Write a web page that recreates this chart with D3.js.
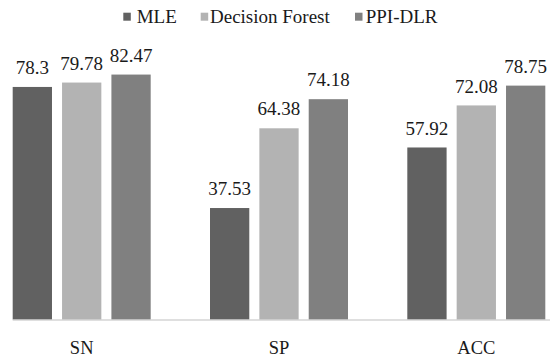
<!DOCTYPE html>
<html>
<head>
<meta charset="utf-8">
<script src="https://cdn.jsdelivr.net/npm/d3@7"></script>
<style>
    body { margin: 0; background: #fff; }
    text { font-family: "Liberation Serif", "Times New Roman", serif; fill: #1a1a1a; }
</style>
</head>
<body>
<div id="chart"></div>
<script>
var categories = ["SN", "SP", "ACC"];
var seriesNames = ["MLE", "Decision Forest", "PPI-DLR"];
var mleValues = [78.3, 37.53, 57.92];
var forestValues = [79.78, 64.38, 72.08];
var ppiValues = [82.47, 74.18, 78.75];
var valueLabels = [["78.3", "37.53", "57.92"], ["79.78", "64.38", "72.08"], ["82.47", "74.18", "78.75"]];

var colors = ["#616161", "#b3b3b3", "#808080"];

var width = 550,
    height = 360;

var svg = d3.select("#chart")
    .append("svg")
    .attr("width", width)
    .attr("height", height);

var rows = [];
categories.forEach(function (c, i) {
    rows.push({ cat: c, values: [mleValues[i], forestValues[i], ppiValues[i]], labels: [valueLabels[0][i], valueLabels[1][i], valueLabels[2][i]] });
});

var x0 = d3.scaleBand()
    .domain(categories)
    .range([-16.9, 574.9])
    .paddingInner(0.3006)
    .paddingOuter(0.15);

var x1 = d3.scaleBand()
    .domain(d3.range(seriesNames.length))
    .range([0, x0.bandwidth()])
    .paddingInner(0.204)
    .paddingOuter(0);

var y = d3.scaleLinear()
    .domain([0, 100])
    .range([319.5, 22.5]);

var groups = svg.append("g")
    .selectAll("g")
    .data(rows)
    .join("g")
    .attr("transform", function (d) { return "translate(" + x0(d.cat) + ",0)"; });

groups.selectAll("rect")
    .data(function (d) { return d.values; })
    .join("rect")
    .attr("x", function (d, i) { return x1(i); })
    .attr("y", function (d) { return y(d); })
    .attr("width", x1.bandwidth())
    .attr("height", function (d) { return y(0) - y(d); })
    .attr("fill", function (d, i) { return colors[i]; });

groups.selectAll("text.value")
    .data(function (d) {
        return d.values.map(function (v, i) { return { v: v, i: i, label: d.labels[i] }; });
    })
    .join("text")
    .attr("class", "value")
    .attr("x", function (d) { return x1(d.i) + x1.bandwidth() / 2; })
    .attr("y", function (d) { return y(d.v) - 12.8; })
    .attr("text-anchor", "middle")
    .style("font-size", "19px")
    .text(function (d) { return d.label; });

// baseline
svg.append("line")
    .attr("x1", x0(categories[0]))
    .attr("x2", width)
    .attr("y1", y(0) + 0.5)
    .attr("y2", y(0) + 0.5)
    .style("stroke", "#bfbfbf")
    .style("stroke-width", 1);

svg.append("g")
    .selectAll("text")
    .data(categories)
    .join("text")
    .attr("x", function (d) { return x0(d) + x0.bandwidth() / 2; })
    .attr("y", 353.5)
    .attr("text-anchor", "middle")
    .style("font-size", "18.5px")
    .text(function (d) { return d; });

// legend
var legendX = [123.3, 200.7, 355];
var legendGap = [13.4, 9.3, 10.7];
var legend = svg.append("g")
    .selectAll("g")
    .data(seriesNames)
    .join("g")
    .attr("transform", function (d, i) { return "translate(" + legendX[i] + ",0)"; });

legend.append("rect")
    .attr("x", 0)
    .attr("y", 12.7)
    .attr("width", 7.5)
    .attr("height", 8)
    .attr("fill", function (d, i) { return colors[i]; });

legend.append("text")
    .attr("x", function (d, i) { return legendGap[i]; })
    .attr("y", 23.3)
    .style("font-size", "19px")
    .text(function (d) { return d; });
</script>
</body>
</html>
